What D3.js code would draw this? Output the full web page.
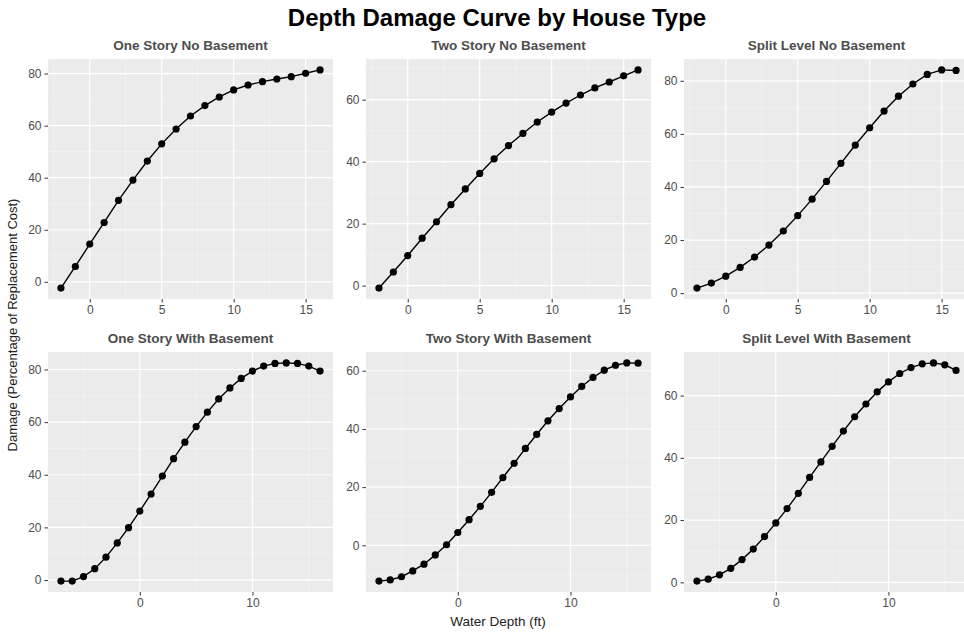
<!DOCTYPE html>
<html>
<head>
<meta charset="utf-8">
<script src="https://cdn.jsdelivr.net/npm/d3@7"></script>
<style>
  body { margin: 0; background: #fff; }
  svg text { font-family: "Liberation Sans", Arial, sans-serif; }
</style>
</head>
<body>
<svg class="chart"></svg>
<script>
// figure size
var width = 964;
var height = 635;

// panel layout (facet grid, 3 columns x 2 rows)
var colLeft = [48, 366, 684];
var rowTop = [59, 352];
var panelW = 285;
var panelH = 240;

// water depths (ft)
var depthNoBasement = [-2, -1, 0, 1, 2, 3, 4, 5, 6, 7, 8, 9, 10, 11, 12, 13, 14, 15, 16];
var depthBasement = [-7, -6, -5, -4, -3, -2, -1, 0, 1, 2, 3, 4, 5, 6, 7, 8, 9, 10, 11, 12, 13, 14, 15, 16];

// damage (% of replacement cost)
var oneStoryNoBase = [-2.4, 5.9, 14.5, 22.8, 31.3, 39.1, 46.4, 53.0, 58.7, 63.7, 67.7, 71.0, 73.7, 75.6, 76.9, 77.9, 78.8, 80.1, 81.4];
var twoStoryNoBase = [-0.8, 4.4, 9.7, 15.3, 20.6, 26.1, 31.2, 36.2, 40.9, 45.2, 49.1, 52.8, 56.0, 58.9, 61.5, 63.8, 65.7, 67.7, 69.6];
var splitNoBase = [1.9, 3.8, 6.4, 9.7, 13.6, 18.1, 23.4, 29.2, 35.4, 42.1, 48.9, 55.8, 62.3, 68.6, 74.2, 78.8, 82.4, 84.1, 83.9];
var oneStoryBase = [-0.4, -0.4, 1.3, 4.3, 8.7, 14.1, 19.9, 26.2, 32.7, 39.5, 46.1, 52.4, 58.3, 63.8, 68.8, 73.0, 76.6, 79.4, 81.3, 82.3, 82.5, 82.3, 81.3, 79.4];
var twoStoryBase = [-12.3, -11.9, -10.8, -8.8, -6.5, -3.3, 0.2, 4.4, 8.8, 13.4, 18.2, 23.3, 28.2, 33.3, 38.1, 42.8, 47.0, 51.0, 54.6, 57.7, 60.2, 61.9, 62.7, 62.6];
var splitBase = [0.4, 1.0, 2.4, 4.5, 7.3, 10.7, 14.7, 19.1, 23.7, 28.6, 33.7, 38.7, 43.7, 48.6, 53.2, 57.3, 61.2, 64.4, 67.1, 69.0, 70.2, 70.5, 69.9, 68.1];

// facet titles
var panelTitles = [
  "One Story No Basement", "Two Story No Basement", "Split Level No Basement",
  "One Story With Basement", "Two Story With Basement", "Split Level With Basement"
];

// tick labels
var xTicksNoBase = [0, 5, 10, 15];
var xTicksBase = [0, 10];
var yTicks80 = [0, 20, 40, 60, 80];
var yTicks60 = [0, 20, 40, 60];

var panels = [
  { title: panelTitles[0], x: depthNoBasement, y: oneStoryNoBase, xt: xTicksNoBase, yt: yTicks80 },
  { title: panelTitles[1], x: depthNoBasement, y: twoStoryNoBase, xt: xTicksNoBase, yt: yTicks60 },
  { title: panelTitles[2], x: depthNoBasement, y: splitNoBase, xt: xTicksNoBase, yt: yTicks80 },
  { title: panelTitles[3], x: depthBasement, y: oneStoryBase, xt: xTicksBase, yt: yTicks80 },
  { title: panelTitles[4], x: depthBasement, y: twoStoryBase, xt: xTicksBase, yt: yTicks60 },
  { title: panelTitles[5], x: depthBasement, y: splitBase, xt: xTicksBase, yt: yTicks60 }
];

var svg = d3.select(".chart")
    .attr("width", width)
    .attr("height", height);

// ggplot-style 5% expansion of the data range
function expanded(values) {
  var ext = d3.extent(values);
  var pad = (ext[1] - ext[0]) * 0.05;
  return [ext[0] - pad, ext[1] + pad];
}

// minor breaks sit halfway between the major ones
function minorBreaks(ticks, domain) {
  var step = ticks[1] - ticks[0];
  var out = [];
  for (var v = ticks[0] - step / 2; v <= domain[1]; v += step) {
    if (v >= domain[0]) out.push(v);
  }
  for (v = ticks[0] - step * 1.5; v >= domain[0]; v -= step) out.push(v);
  return out;
}

panels.forEach(function(p, i) {
  var left = colLeft[i % 3];
  var top = rowTop[Math.floor(i / 3)];

  var xDom = expanded(p.x);
  var yDom = expanded(p.y);
  var x = d3.scaleLinear().domain(xDom).range([0, panelW]);
  var y = d3.scaleLinear().domain(yDom).range([panelH, 0]);

  var g = svg.append("g")
      .attr("transform", "translate(" + left + "," + top + ")");

  // panel background
  g.append("rect")
      .attr("width", panelW)
      .attr("height", panelH)
      .attr("fill", "#ebebeb");

  // minor grid
  g.selectAll("line.xminor")
      .data(minorBreaks(p.xt, xDom))
    .enter().append("line")
      .attr("x1", function(d) { return x(d); })
      .attr("x2", function(d) { return x(d); })
      .attr("y1", 0)
      .attr("y2", panelH)
      .attr("stroke", "#f5f5f5")
      .attr("stroke-width", 0.6);
  g.selectAll("line.yminor")
      .data(minorBreaks(p.yt, yDom))
    .enter().append("line")
      .attr("x1", 0)
      .attr("x2", panelW)
      .attr("y1", function(d) { return y(d); })
      .attr("y2", function(d) { return y(d); })
      .attr("stroke", "#f5f5f5")
      .attr("stroke-width", 0.6);

  // major grid
  g.selectAll("line.xmajor")
      .data(p.xt)
    .enter().append("line")
      .attr("x1", function(d) { return x(d); })
      .attr("x2", function(d) { return x(d); })
      .attr("y1", 0)
      .attr("y2", panelH)
      .attr("stroke", "#fff")
      .attr("stroke-width", 1.2);
  g.selectAll("line.ymajor")
      .data(p.yt)
    .enter().append("line")
      .attr("x1", 0)
      .attr("x2", panelW)
      .attr("y1", function(d) { return y(d); })
      .attr("y2", function(d) { return y(d); })
      .attr("stroke", "#fff")
      .attr("stroke-width", 1.2);

  // axes
  var xAxis = g.append("g")
      .attr("transform", "translate(0," + panelH + ")")
      .call(d3.axisBottom(x).tickValues(p.xt).tickSize(3.5).tickPadding(2.5));
  var yAxis = g.append("g")
      .call(d3.axisLeft(y).tickValues(p.yt).tickSize(3.5).tickPadding(3));
  [xAxis, yAxis].forEach(function(a) {
    a.select(".domain").remove();
    a.selectAll(".tick line").attr("stroke", "#333").attr("stroke-width", 1);
    a.selectAll(".tick text")
        .attr("fill", "#4d4d4d")
        .style("font-size", "12px")
        .style("font-family", "'Liberation Sans', Arial, sans-serif");
  });

  // curve and points
  var pts = p.x.map(function(d, j) { return [d, p.y[j]]; });
  g.append("path")
      .datum(pts)
      .attr("fill", "none")
      .attr("stroke", "#000")
      .attr("stroke-width", 1.4)
      .attr("d", d3.line()
        .x(function(d) { return x(d[0]); })
        .y(function(d) { return y(d[1]); }));
  g.selectAll("circle")
      .data(pts)
    .enter().append("circle")
      .attr("cx", function(d) { return x(d[0]); })
      .attr("cy", function(d) { return y(d[1]); })
      .attr("r", 3.6)
      .attr("fill", "#000");

  // facet title
  g.append("text")
      .attr("x", panelW / 2)
      .attr("y", -9)
      .attr("text-anchor", "middle")
      .attr("fill", "#4d4d4d")
      .style("font-size", "13.5px")
      .style("font-weight", "bold")
      .text(p.title);
});

// figure title
svg.append("text")
    .attr("x", 497)
    .attr("y", 26)
    .attr("text-anchor", "middle")
    .attr("fill", "#000")
    .style("font-size", "24px")
    .style("font-weight", "bold")
    .text("Depth Damage Curve by House Type");

// axis titles
svg.append("text")
    .attr("x", 498)
    .attr("y", 626)
    .attr("text-anchor", "middle")
    .attr("fill", "#222")
    .style("font-size", "13.5px")
    .text("Water Depth (ft)");
svg.append("text")
    .attr("transform", "translate(17," + 325 + ") rotate(-90)")
    .attr("text-anchor", "middle")
    .attr("fill", "#222")
    .style("font-size", "13px")
    .text("Damage (Percentage of Replacement Cost)");
</script>
</body>
</html>
